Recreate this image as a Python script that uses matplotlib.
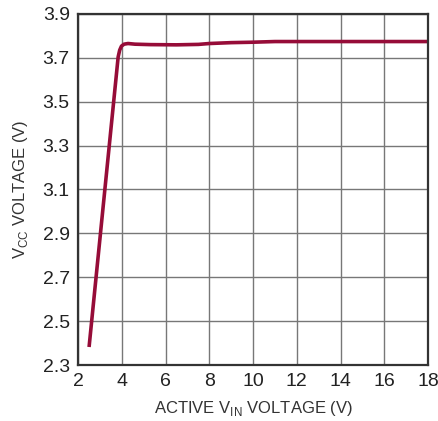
import matplotlib
matplotlib.use('Agg')
import matplotlib.pyplot as plt

plt.rcParams['font.family'] = ['Liberation Sans', 'DejaVu Sans']
plt.rcParams['font.size'] = 12

# active Vin (V) vs Vcc (V)
vin = [2.5, 3.83, 3.9, 3.98, 4.1, 4.28, 4.6, 5.3, 6.5, 7.5, 8.0, 9.0, 10.0, 11.0, 12.0, 14.0, 16.0, 18.0]
vcc = [2.382, 3.704, 3.735, 3.753, 3.762, 3.765, 3.762, 3.76, 3.759, 3.761, 3.765, 3.769, 3.771, 3.774, 3.774, 3.774, 3.774, 3.774]

fig = plt.figure(figsize=(4.39, 4.21), dpi=100)
ax = fig.add_axes([0.178, 0.133, 0.797, 0.834])

ax.plot(vin, vcc, color='#960c38', lw=2.6, solid_capstyle='butt', solid_joinstyle='round')

ax.set_xlim(2, 18)
ax.set_ylim(2.3, 3.9)
ax.set_xticks(range(2, 19, 2))
ax.set_yticks([2.3, 2.5, 2.7, 2.9, 3.1, 3.3, 3.5, 3.7, 3.9])
ax.set_yticklabels(['2.3', '2.5', '2.7', '2.9', '3.1', '3.3', '3.5', '3.7', '3.9'])
ax.grid(True, color='#777777', lw=1.0)
ax.tick_params(length=0, pad=6, labelsize=14, colors='#222222')
for s in ax.spines.values():
    s.set_color('#333333')
    s.set_linewidth(1.6)

ax.set_xlabel(r'ACTIVE V$_{\mathregular{IN}}$ VOLTAGE (V)', fontsize=12, color='#333333', labelpad=6)
ax.set_ylabel(r'V$_{\mathregular{CC}}$ VOLTAGE (V)', fontsize=12, color='#333333', labelpad=9)

plt.savefig('out.png', dpi=100)
plt.close(fig)
